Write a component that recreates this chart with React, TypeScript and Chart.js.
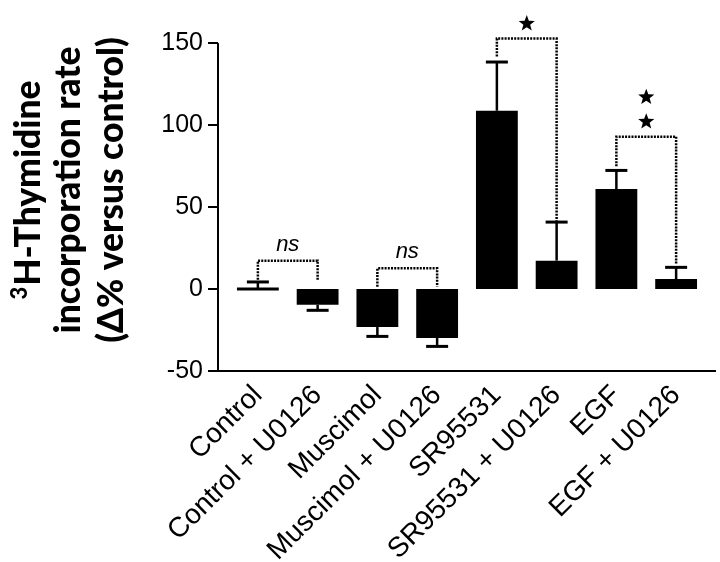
import React, { useEffect, useRef } from "react";
import { Chart, registerables } from "chart.js";
Chart.register(...registerables);

const categories = [
  "Control",
  "Control + U0126",
  "Muscimol",
  "Muscimol + U0126",
  "SR95531",
  "SR95531 + U0126",
  "EGF",
  "EGF + U0126",
];
const means = [0, -9.6, -23.2, -29.9, 108.7, 17.3, 61, 6.1];
const errors = [4.3, 3.4, 5.7, 5.1, 29.7, 23.5, 11.3, 7.1];
const yMin = -50;
const yMax = 150;
const yStep = 50;

// significance brackets
const bracketFrom = [0, 2, 4, 6];
const bracketTo = [1, 3, 5, 7];
const bracketTop = [17.3, 12.6, 152.7, 92.9];
const bracketLeftEnd = [5.7, 1.4, 141.8, 74.8];
const bracketRightEnd = [5.2, 1.4, 41.2, 14.8];
const bracketMarks = ["ns", "ns", "*", "**"];

const titleLines = ["H-Thymidine", "incorporation rate", "(Δ% versus control)"];
const titleSup = "3";

function drawStar(ctx: CanvasRenderingContext2D, cx: number, cy: number, r: number) {
  const inner = r * 0.42;
  ctx.beginPath();
  for (let k = 0; k < 10; k++) {
    const rad = k % 2 === 0 ? r : inner;
    const a = -Math.PI / 2 + (k * Math.PI) / 5;
    const px = cx + rad * Math.cos(a);
    const py = cy + rad * Math.sin(a);
    if (k === 0) ctx.moveTo(px, py);
    else ctx.lineTo(px, py);
  }
  ctx.closePath();
  ctx.fill();
}

const decorPlugin = {
  id: "decor",
  afterDatasetsDraw(chart: any) {
    const ctx: CanvasRenderingContext2D = chart.ctx;
    const y = chart.scales.y;
    const meta = chart.getDatasetMeta(0);
    ctx.save();
    ctx.strokeStyle = "#000";
    ctx.fillStyle = "#000";
    for (let i = 0; i < means.length; i++) {
      const bar = meta.data[i];
      const x = bar.x;
      const sign = means[i] >= 0 ? 1 : -1;
      const y0 = y.getPixelForValue(means[i]);
      const y1 = y.getPixelForValue(means[i] + sign * errors[i]);
      ctx.lineWidth = 2.5;
      ctx.beginPath();
      ctx.moveTo(x, y0);
      ctx.lineTo(x, y1);
      ctx.stroke();
      ctx.lineWidth = 3;
      ctx.beginPath();
      ctx.moveTo(x - 11, y1);
      ctx.lineTo(x + 11, y1);
      ctx.stroke();
    }
    ctx.restore();
  },
  afterDraw(chart: any) {
    const ctx: CanvasRenderingContext2D = chart.ctx;
    const y = chart.scales.y;
    const area = chart.chartArea;
    const meta = chart.getDatasetMeta(0);
    ctx.save();
    ctx.strokeStyle = "#000";
    ctx.fillStyle = "#000";
    // axes
    const axX = area.left - 10;
    const axBottom = area.bottom;
    ctx.lineWidth = 2;
    ctx.beginPath();
    ctx.moveTo(axX, y.getPixelForValue(yMax));
    ctx.lineTo(axX, axBottom);
    ctx.lineTo(area.right + 10, axBottom);
    ctx.stroke();
    for (let v = yMin; v <= yMax; v += yStep) {
      const py = y.getPixelForValue(v);
      ctx.beginPath();
      ctx.moveTo(axX - 10, py);
      ctx.lineTo(axX, py);
      ctx.stroke();
    }
    // brackets
    ctx.lineWidth = 2.5;
    ctx.strokeStyle = "#000";
    ctx.setLineDash([2, 1.2]);
    for (let b = 0; b < bracketFrom.length; b++) {
      const xl = meta.data[bracketFrom[b]].x;
      const xr = meta.data[bracketTo[b]].x;
      const yt = y.getPixelForValue(bracketTop[b]);
      ctx.beginPath();
      ctx.moveTo(xl, y.getPixelForValue(bracketLeftEnd[b]));
      ctx.lineTo(xl, yt);
      ctx.lineTo(xr, yt);
      ctx.lineTo(xr, y.getPixelForValue(bracketRightEnd[b]));
      ctx.stroke();
      const cx = (xl + xr) / 2;
      const mark = bracketMarks[b];
      if (mark === "ns") {
        ctx.font = "italic 22px 'Liberation Sans', Arial, sans-serif";
        ctx.textAlign = "center";
        ctx.textBaseline = "alphabetic";
        ctx.fillText("ns", cx, yt - 10);
      } else {
        const n = mark.length;
        for (let k = 0; k < n; k++) {
          drawStar(ctx, cx, yt - 15 - k * 24.5, 8.5);
        }
      }
    }
    ctx.setLineDash([]);
    // y title
    ctx.fillStyle = "#000";
    const cy = 190;
    const baselines = [40, 80, 123];
    const fam = "Lato, 'Open Sans', sans-serif";
    ctx.font = `900 100px ${fam}`;
    const ref = ctx.measureText(titleLines[1]).width;
    const size = (287 / ref) * 100;
    const fontMain = `900 ${size}px ${fam}`;
    const fontSup = `900 ${size * 0.62}px ${fam}`;
    for (let l = 0; l < titleLines.length; l++) {
      ctx.save();
      ctx.translate(baselines[l], cy);
      ctx.rotate(-Math.PI / 2);
      ctx.textBaseline = "alphabetic";
      ctx.textAlign = "left";
      ctx.font = fontMain;
      const wMain = ctx.measureText(titleLines[l]).width;
      let wSup = 0;
      if (l === 0) {
        ctx.font = fontSup;
        wSup = ctx.measureText(titleSup).width + 1;
      }
      let start = -(wMain + wSup) / 2;
      if (l === 0) {
        ctx.font = fontSup;
        ctx.fillText(titleSup, start, -size * 0.36);
        start += wSup;
      }
      ctx.font = fontMain;
      ctx.fillText(titleLines[l], start, 0);
      ctx.restore();
    }
    ctx.restore();
  },
};

export default function App() {
  const ref = useRef<HTMLCanvasElement | null>(null);
  useEffect(() => {
    if (!ref.current) return;
    const chart = new Chart(ref.current, {
      type: "bar",
      data: {
        labels: categories,
        datasets: [
          {
            data: means,
            backgroundColor: "#000",
            borderWidth: 0,
            barPercentage: 0.7,
            categoryPercentage: 1,
            minBarLength: 3,
          },
        ],
      },
      options: {
        animation: false,
        responsive: false,
        maintainAspectRatio: false,
        events: [],
        layout: { padding: { left: 0, right: 14, top: 43, bottom: 0 } },
        plugins: { legend: { display: false }, tooltip: { enabled: false }, title: { display: false } },
        scales: {
          x: {
            type: "category",
            grid: { display: false, drawTicks: false },
            border: { display: false },
            ticks: {
              color: "#000",
              font: { family: "'Liberation Sans', Arial, sans-serif", size: 28 },
              minRotation: 45,
              maxRotation: 45,
              autoSkip: false,
              padding: 8,
            },
            afterFit: (s: any) => {
              s.height = 191;
            },
          },
          y: {
            min: yMin,
            max: yMax,
            grid: { display: false, drawTicks: false },
            border: { display: false },
            ticks: {
              stepSize: yStep,
              color: "#000",
              font: { family: "'Liberation Sans', Arial, sans-serif", size: 25 },
              padding: 25,
            },
            afterFit: (s: any) => {
              s.width = 228;
            },
          },
        },
      },
      plugins: [decorPlugin],
    });
    return () => chart.destroy();
  }, []);
  return (
    <div style={{ position: "fixed", left: 0, top: 0, width: 720, height: 562, background: "#fff" }}>
      <canvas ref={ref} width={720} height={562} style={{ width: 720, height: 562 }} />
    </div>
  );
}
